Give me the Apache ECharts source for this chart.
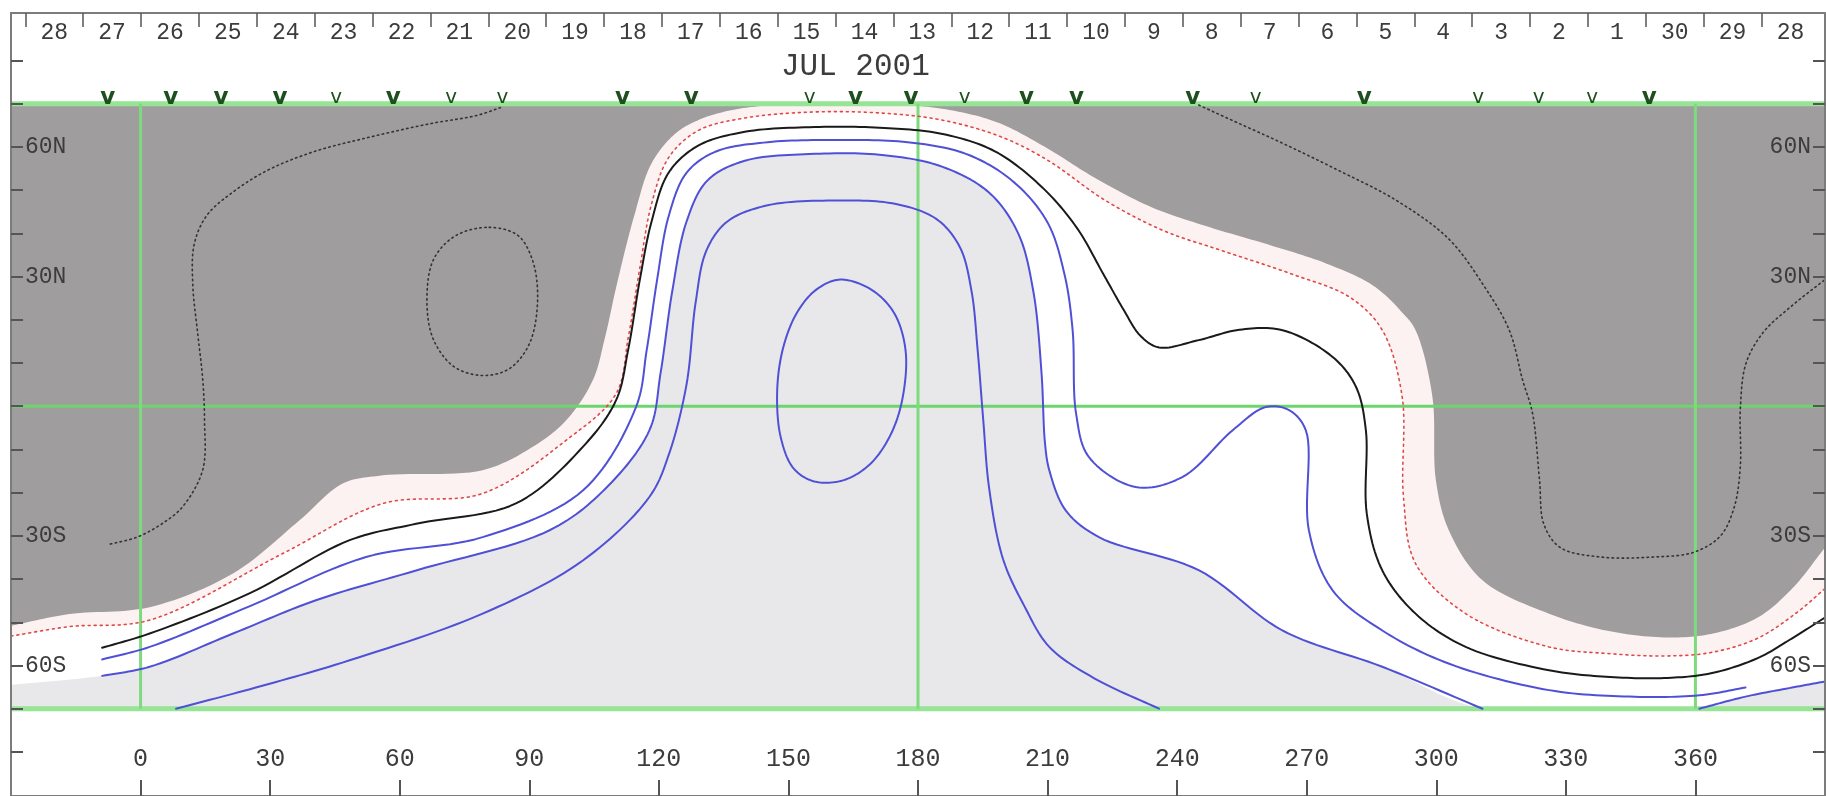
<!DOCTYPE html>
<html><head><meta charset="utf-8">
<script src="https://cdn.jsdelivr.net/npm/echarts@6/dist/echarts.min.js"></script>
<style>html,body{margin:0;padding:0;background:#fff}#c{width:1826px;height:796px}</style>
</head><body><div id="c"></div>
<script>
// ---- axis labels ----
const lonTicks = [0, 30, 60, 90, 120, 150, 180, 210, 240, 270, 300, 330, 360];
const latTicks = [-80, -70, -60, -50, -40, -30, -20, -10, 0, 10, 20, 30, 40, 50, 60, 70, 80];
const latLabels = [60, 30, -30, -60];
const dateLabels = ['28','27','26','25','24','23','22','21','20','19','18','17','16','15','14','13','12','11','10','9','8','7','6','5','4','3','2','1','30','29','28'];
const dateLons = [-20.0,-6.6,6.8,20.2,33.6,47.0,60.4,73.8,87.2,100.6,114.0,127.4,140.8,154.2,167.6,181.0,194.4,207.8,221.2,234.6,248.0,261.4,274.8,288.2,301.6,315.0,328.4,341.8,355.2,368.6,382.0];
const dateTickLons = [-26.7,-13.3,0.1,13.5,26.9,40.3,53.7,67.1,80.5,93.9,107.3,120.7,134.1,147.5,160.9,174.3,187.7,201.1,214.5,227.9,241.3,254.7,268.1,281.5,294.9,308.3,321.7,335.1,348.5,361.9,375.3];
const monthLabel = 'JUL 2001';
const monthPos = [165.5, 78.6];

// ---- sector markers: [lon, bold] ----
const sectorMarks = [[-7.6,1],[7.0,1],[18.6,1],[32.3,1],[45.3,0],[58.5,1],[71.9,0],[83.8,0],[111.6,1],[127.5,1],[154.9,0],[165.5,1],[178.4,1],[190.8,0],[205.1,1],[216.7,1],[243.6,1],[258.2,0],[283.3,1],[309.7,0],[323.7,0],[336.1,0],[349.3,1]];
const markLat = 71.3;

// ---- reference grid lines ----
const greenLats = [70, 0, -70];
const greenLons = [0, 180, 360];

// ---- contours [lon, lat] ----
const darkEdge = [[-30,-50.8],[-16.5,-48.1],[2.1,-46.5],[21.4,-38.7],[36.8,-26.4],[46.8,-17.9],[56.1,-16.0],[79.2,-14.8],[90.8,-9.4],[98.5,-3.3],[104.7,6.0],[107.5,15.8],[110.2,27.9],[114.3,44.1],[118.3,56.2],[123.7,63.0],[129.1,66.2],[135.8,68.3],[145.2,69.6],[161.4,70],[177.6,69.7],[189.7,68.1],[199.1,65.4],[209.9,59.7],[220.7,53.0],[234.2,46.0],[247.6,41.4],[261.1,37.4],[274.6,33.0],[285.4,27.9],[292.1,21.7],[295.2,17.6],[299.1,2.2],[299.9,-17.1],[302.9,-28.7],[310.7,-40.3],[326.1,-48.0],[339.3,-51.9],[352.8,-53.5],[363.6,-52.7],[374.4,-48.9],[382.4,-42.2],[390,-32.7]];
const redDotted = [[-30,-53.2],[-16.5,-51.0],[2.1,-49.5],[32.9,-34.1],[56.1,-22.5],[79.2,-20.2],[98.5,-7.9],[110.1,2.9],[112.9,15.8],[115.6,32.0],[118.3,46.8],[122.3,57.6],[129.1,63.8],[139.9,66.7],[156.0,68.1],[172.2,67.8],[185.7,66.2],[199.1,62.4],[209.9,57.0],[223.4,47.6],[236.9,40.6],[250.4,36.0],[266.5,30.6],[280.0,25.2],[287.5,17.6],[292.1,2.2],[292.4,-21.0],[295.2,-36.4],[306.8,-48.0],[326.1,-55.7],[339.3,-57.2],[352.8,-57.8],[363.6,-57.0],[374.4,-53.7],[383.8,-47.5],[390,-42.2]];
const neutralLine = [[-8.9,-55.9],[2.1,-52.6],[25.2,-43.3],[48.4,-31.0],[63.8,-27.2],[86.9,-22.5],[102.4,-9.4],[110.1,1.4],[112.9,13.1],[115.6,29.3],[118.3,42.7],[122.3,54.1],[129.1,60.3],[139.9,63.5],[156.0,64.6],[172.2,64.4],[185.7,63.0],[197.8,59.0],[208.6,50.8],[216.7,41.4],[222.9,30.6],[227.5,22.5],[231.5,16.3],[235.8,13.6],[245.0,15.3],[254.4,17.7],[264.4,17.6],[276.0,11.4],[281.4,4.5],[283.7,-5.6],[283.9,-24.8],[287.5,-38.0],[295.2,-48.0],[306.8,-55.7],[326.1,-61.1],[339.3,-62.6],[352.8,-62.9],[363.6,-61.8],[374.4,-58.3],[382.4,-53.7],[390,-48.9]];
const pos1 = [[-8.9,-58.6],[2.1,-55.7],[25.2,-46.3],[52.2,-34.9],[79.2,-30.3],[102.4,-19.5],[114.7,-0.2],[117.2,13.1],[119.6,29.3],[122.3,44.1],[126.4,54.0],[133.1,58.9],[145.2,61.1],[161.4,61.6],[177.6,61.1],[191.1,58.4],[201.8,52.2],[209.9,42.7],[213.9,30.6],[215.8,17.6],[216.6,-1.7],[219.6,-11.8],[230.4,-18.7],[241.2,-16.4],[252.8,-5.6],[260.5,-0.2],[265.9,-0.9],[269.8,-5.6],[270.5,-28.7],[276.0,-42.6],[287.5,-51.9],[303.0,-59.6],[326.1,-65.7],[344.7,-67.2],[360.9,-66.9],[371.6,-65.1]];
const pos2 = [[-8.9,-62.4],[2.1,-60.3],[21.4,-52.6],[40.6,-44.9],[63.8,-38.0],[94.7,-28.7],[107.5,-19.2],[117.8,-5.6],[120.4,7.7],[123.1,26.6],[126.4,42.7],[131.2,52.2],[139.9,56.8],[156.0,58.4],[172.2,58.1],[185.7,55.4],[196.5,49.4],[203.2,40.0],[206.7,26.6],[208.6,7.7],[209.4,-8.5],[210.4,-14.8],[214.2,-24.1],[221.9,-30.3],[245.1,-38.0],[264.4,-51.9],[287.5,-60.3],[310.7,-70]];
const pos2Right = [[360.9,-70],[371.6,-67.2],[382.4,-65.1],[390,-63.7]];
const pos3 = [[8.2,-70],[26.7,-65.1],[48.4,-58.8],[79.2,-48.0],[102.4,-35.7],[117.8,-21.0],[122.3,-11.2],[126.4,5.0],[128.5,23.9],[131.0,36.0],[135.8,42.7],[145.2,46.5],[161.4,47.6],[174.9,46.8],[184.3,43.3],[189.7,36.8],[192.4,26.6],[193.8,13.1],[195.1,-3.1],[196.5,-19.2],[199.7,-35.4],[204.6,-46.2],[210.4,-55.7],[220.7,-62.9],[235.8,-70]];
const pos4Loop = [[162.0,29.3],[169.0,27.1],[174.4,21.7],[177.1,13.1],[176.5,2.3],[173.8,-6.3],[169.0,-13.3],[162.8,-17.1],[156.0,-17.4],[151.2,-14.4],[148.2,-7.1],[147.4,3.7],[148.8,13.6],[152.0,21.7],[156.6,27.1]];
const negLeft = [[-7.0,-31.9],[-0.8,-30.3],[5.1,-27.1],[9.7,-23.3],[14.4,-14.7],[14.8,-3.1],[14.4,6.1],[13.2,17.1],[12.1,27.9],[12.4,37.4],[15.3,44.1],[21.3,49.5],[29.4,54.6],[40.1,58.9],[53.6,62.4],[67.1,65.4],[77.9,67.3],[83.3,69.1]];
const negRight = [[245.0,69.7],[254.4,65.4],[263.9,61.1],[277.3,54.6],[290.8,47.6],[302.9,38.7],[311.0,27.9],[316.9,17.6],[320.0,6.0],[322.3,-1.7],[323.9,-17.1],[324.9,-27.3],[328.7,-32.7],[338.1,-34.9],[350.2,-34.9],[359.6,-33.8],[365.8,-30.0],[369.0,-23.3],[370.4,-13.9],[370.4,-0.4],[371.7,9.9],[375.7,17.1],[382.4,23.3],[390,29.3]];
const negLoop = [[80.7,41.4],[87.4,39.5],[90.9,33.3],[91.9,23.9],[90.0,14.4],[85.4,8.7],[79.2,7.1],[72.5,9.2],[67.7,15.7],[66.3,25.2],[67.9,34.1],[73.0,39.5]];

// ---- styles ----
const FONT = '"Liberation Mono", "DejaVu Sans Mono", monospace';
const TXT = '#3c3c3c';
const DARK = '#a09d9f', PINK = '#fdf2f2', LIGHT = '#e8e8ea';
const BLUE = '#5050d6', BLACK = '#1a1a1a', RED = '#e04848', NEG = '#333333';
const LON_MIN = -30, LON_MAX = 390, LAT_MIN = -90.2, LAT_MAX = 91;

// centripetal Catmull-Rom sampling in pixel space
function crSample(P, closed, steps) {
  const n = P.length, out = [];
  if (n < 2) return P.slice();
  const get = i => closed ? P[((i % n) + n) % n] : P[Math.max(0, Math.min(n - 1, i))];
  const segs = closed ? n : n - 1;
  const d = (a, b) => Math.max(Math.pow(Math.hypot(b[0] - a[0], b[1] - a[1]), 0.5), 1e-3);
  const mix = (a, b, wa, wb) => [a[0] * wa + b[0] * wb, a[1] * wa + b[1] * wb];
  for (let i = 0; i < segs; i++) {
    let p0 = get(i - 1), p1 = get(i), p2 = get(i + 1), p3 = get(i + 2);
    if (!closed && i === 0) p0 = [2 * p1[0] - p2[0], 2 * p1[1] - p2[1]];
    if (!closed && i === segs - 1) p3 = [2 * p2[0] - p1[0], 2 * p2[1] - p1[1]];
    const t0 = 0, t1 = t0 + d(p0, p1), t2 = t1 + d(p1, p2), t3 = t2 + d(p2, p3);
    for (let s = 0; s < steps; s++) {
      const t = t1 + (t2 - t1) * s / steps;
      const A1 = mix(p0, p1, (t1 - t) / (t1 - t0), (t - t0) / (t1 - t0));
      const A2 = mix(p1, p2, (t2 - t) / (t2 - t1), (t - t1) / (t2 - t1));
      const A3 = mix(p2, p3, (t3 - t) / (t3 - t2), (t - t2) / (t3 - t2));
      const B1 = mix(A1, A2, (t2 - t) / (t2 - t0), (t - t0) / (t2 - t0));
      const B2 = mix(A2, A3, (t3 - t) / (t3 - t1), (t - t1) / (t3 - t1));
      out.push(mix(B1, B2, (t2 - t) / (t2 - t1), (t - t1) / (t2 - t1)));
    }
  }
  if (!closed) out.push(P[n - 1]);
  return out;
}

function custom(z, draw) {
  return {type: 'custom', silent: true, z, clip: true, data: [[0, 0]], renderItem: (params, api) => draw(api)};
}
function fillUnder(pts, color, z) {
  return custom(z, api => {
    const px = crSample(pts.map(p => api.coord(p)), false, 14);
    px.push(api.coord([LON_MAX + 5, LAT_MIN - 5]), api.coord([LON_MIN - 5, LAT_MIN - 5]));
    return {type: 'polygon', shape: {points: px}, style: {fill: color, stroke: null}};
  });
}
function rectFill(lon0, lat0, lon1, lat1, color, z) {
  return custom(z, api => {
    const a = api.coord([lon0, lat0]), b = api.coord([lon1, lat1]);
    return {type: 'rect', shape: {x: Math.min(a[0], b[0]), y: Math.min(a[1], b[1]), width: Math.abs(b[0] - a[0]), height: Math.abs(b[1] - a[1])},
      style: {fill: color, stroke: null}};
  });
}
function curve(pts, color, width, dash, closed) {
  return custom(5, api => ({type: 'polyline',
    shape: {points: crSample(pts.map(p => api.coord(p)), !!closed, 14).concat(closed ? [api.coord(pts[0])] : [])},
    style: {fill: null, stroke: color, lineWidth: width, lineDash: dash || null, lineCap: 'round', lineJoin: 'round'}}));
}
function straight(a, b, color, width) {
  return custom(4, api => {
    const p = api.coord(a), q = api.coord(b);
    return {type: 'line', shape: {x1: p[0], y1: p[1], x2: q[0], y2: q[1]}, style: {stroke: color, lineWidth: width}};
  });
}

const series = [];
series.push(rectFill(LON_MIN - 5, -70, LON_MAX + 5, 70, DARK, 1));
series.push(fillUnder(darkEdge, PINK, 2));
series.push(fillUnder(redDotted, '#ffffff', 2));
series.push(fillUnder([[LON_MIN - 5, pos2[0][1] - 2.5]].concat(pos2, pos2Right), LIGHT, 2));
series.push(rectFill(LON_MIN - 5, LAT_MIN - 5, LON_MAX + 5, -70, '#ffffff', 3));

greenLats.forEach(lat => series.push(straight([LON_MIN, lat], [LON_MAX, lat], lat === 0 ? '#6cd56c' : '#95e595', lat === 0 ? 3 : 5)));
greenLons.forEach(lon => series.push(straight([lon, -70], [lon, 70], '#7ddb7d', 3)));

series.push(curve(redDotted, RED, 1.6, [2, 4]));
series.push(curve(neutralLine, BLACK, 2));
series.push(curve(pos1, BLUE, 2));
series.push(curve(pos2, BLUE, 2));
series.push(curve(pos2Right, BLUE, 2));
series.push(curve(pos3, BLUE, 2));
series.push(curve(pos4Loop, BLUE, 2, null, true));
series.push(curve(negLeft, NEG, 1.6, [1.5, 3.5]));
series.push(curve(negRight, NEG, 1.6, [1.5, 3.5]));
series.push(curve(negLoop, NEG, 1.6, [1.5, 3.5], true));

series.push({type: 'custom', silent: true, z: 7, clip: false, data: sectorMarks,
  renderItem: (params, api) => {
    const m = sectorMarks[params.dataIndex];
    const p = api.coord([m[0], markLat]);
    return {type: 'text', x: p[0], y: p[1],
      style: {text: 'v', fill: '#1e4f1e', align: 'center', verticalAlign: 'middle',
        font: (m[1] ? '900 23px' : 'normal 20px') + ' "DejaVu Sans", sans-serif'}};
  }});
series.push({type: 'custom', silent: true, z: 7, clip: false, data: [monthPos],
  renderItem: (params, api) => {
    const p = api.coord(monthPos);
    return {type: 'text', x: p[0], y: p[1],
      style: {text: monthLabel, fill: TXT, align: 'center', verticalAlign: 'middle', font: '31px ' + FONT}};
  }});

const axisLine = {show: true, onZero: false, lineStyle: {color: '#7c7c7c', width: 2}};
const latFmt = v => v > 0 ? v + 'N' : (v < 0 ? (-v) + 'S' : '');
function yAx(pos) {
  return {type: 'value', position: pos, min: LAT_MIN, max: LAT_MAX, axisLine, z: 10,
    splitLine: {show: false},
    axisTick: {show: true, inside: true, length: 12, customValues: latTicks, lineStyle: {color: '#555', width: 2}},
    axisLabel: {show: true, inside: true, margin: 14, customValues: latLabels, formatter: latFmt,
      color: TXT, fontFamily: FONT, fontSize: 23}};
}

const chart = echarts.init(document.getElementById('c'), null, {renderer: 'canvas'});
chart.setOption({
  animation: false,
  backgroundColor: '#ffffff',
  grid: {left: 11, right: 1, top: 13, bottom: 0, containLabel: false},
  xAxis: [
    {type: 'value', position: 'bottom', min: LON_MIN, max: LON_MAX, axisLine, splitLine: {show: false}, z: 10,
      axisTick: {show: true, inside: true, length: 16, customValues: lonTicks, lineStyle: {color: '#555', width: 2}},
      axisLabel: {show: true, inside: true, margin: 24, customValues: lonTicks, color: TXT, fontFamily: FONT, fontSize: 25}},
    {type: 'value', position: 'top', min: LON_MIN, max: LON_MAX, axisLine, splitLine: {show: false}, z: 10,
      axisTick: {show: true, inside: true, length: 14, customValues: dateTickLons, lineStyle: {color: '#555', width: 1.5}},
      axisLabel: {show: true, inside: true, margin: 8, customValues: dateLons, color: TXT, fontFamily: FONT, fontSize: 23,
        formatter: v => { const i = dateLons.findIndex(d => Math.abs(d - v) < 0.05); return i >= 0 ? dateLabels[i] : ''; }}}
  ],
  yAxis: [yAx('left'), yAx('right')],
  series
});
</script></body></html>
